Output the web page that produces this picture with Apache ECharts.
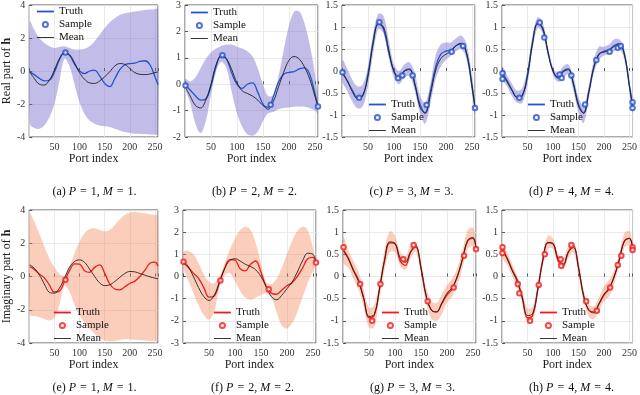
<!DOCTYPE html>
<html>
<head>
<meta charset="utf-8">
<script src="https://cdn.jsdelivr.net/npm/echarts@6/dist/echarts.min.js"></script>
</head>
<body style="margin:0; background:#fff">
<div id="main" style="width:640px; height:395px;"></div>
<script>
const ports = [1,10,20,30,40,50,60,70,80,90,100,110,120,130,140,150,160,170,180,190,200,210,220,230,240,250,256];

// ground truth, real and imaginary part
const truthRe = [-0.05,-0.22,-0.44,-0.6,-0.56,-0.07,0.68,1.1,0.95,0.42,0.0,-0.16,0.0,0.05,-0.3,-0.75,-0.95,-0.47,0.08,0.38,0.45,0.48,0.58,0.62,0.38,-0.35,-0.84];
const truthIm = [0.6,0.42,0.15,-0.08,-0.5,-0.93,-0.88,-0.3,0.35,0.76,0.74,0.35,0.25,0.55,0.7,0.2,-0.45,-0.75,-0.8,-0.62,-0.42,-0.28,0.0,0.38,0.8,0.86,0.62];

// (a) P=1
const meanRe1  = [-0.05,-0.45,-0.8,-0.85,-0.55,0.05,0.75,1.12,1.0,0.5,-0.1,-0.5,-0.72,-0.75,-0.6,-0.35,-0.05,0.3,0.45,0.4,0.15,-0.1,-0.2,-0.22,-0.18,-0.1,-0.05];
const upperRe1 = [3.0,2.5,2.0,1.7,1.5,1.4,1.45,1.5,1.4,1.3,1.3,1.35,1.5,1.8,2.2,2.6,2.95,3.2,3.4,3.5,3.55,3.6,3.65,3.7,3.72,3.75,3.78];
const lowerRe1 = [-3.2,-3.45,-3.5,-3.3,-2.8,-2.0,-0.6,0.75,0.3,-0.8,-1.9,-2.6,-3.0,-3.2,-3.3,-3.35,-3.4,-3.5,-3.6,-3.7,-3.75,-3.8,-3.8,-3.82,-3.85,-3.85,-3.85];
// (b) P=2
const meanRe2  = [-0.12,-0.45,-0.8,-0.9,-0.6,0.0,0.75,1.05,0.95,0.55,0.05,-0.25,-0.35,-0.45,-0.6,-0.8,-0.87,-0.65,-0.1,0.45,0.9,1.05,0.95,0.65,0.2,-0.45,-0.85];
const upperRe2 = [0.2,0.1,0.25,0.6,0.95,1.2,1.35,1.45,1.5,1.5,1.42,1.35,1.25,1.05,0.6,0.0,-0.45,-0.4,0.3,1.3,2.2,2.75,2.75,2.3,1.5,0.4,-0.6];
const lowerRe2 = [-0.2,-0.7,-1.5,-1.85,-1.4,-0.4,0.5,0.85,0.6,-0.3,-1.1,-1.6,-1.9,-1.95,-1.8,-1.4,-1.1,-1.05,-0.95,-0.9,-0.88,-0.85,-0.85,-0.85,-0.9,-1.0,-1.1];
// (c) P=3
const meanRe3  = [-0.05,-0.22,-0.47,-0.63,-0.55,-0.12,0.62,1.06,1.0,0.48,-0.02,-0.15,0.0,0.03,-0.28,-0.82,-0.96,-0.55,0.0,0.28,0.38,0.45,0.58,0.63,0.4,-0.3,-0.85];
const upperRe3 = [0.25,0.05,-0.2,-0.35,-0.3,0.1,0.85,1.3,1.25,0.7,0.15,0.0,0.15,0.2,-0.05,-0.55,-0.72,-0.3,0.35,0.6,0.65,0.65,0.75,0.8,0.6,-0.1,-0.7];
const lowerRe3 = [-0.25,-0.45,-0.7,-0.85,-0.8,-0.35,0.4,0.95,0.85,0.3,-0.15,-0.3,-0.15,-0.12,-0.45,-0.95,-1.2,-0.75,-0.2,0.1,0.25,0.35,0.45,0.5,0.25,-0.45,-1.05];
// (d) P=4
const meanRe4  = [-0.08,-0.25,-0.45,-0.6,-0.55,-0.12,0.62,1.07,0.98,0.45,0.0,-0.14,-0.02,0.03,-0.28,-0.8,-0.96,-0.5,0.08,0.38,0.43,0.47,0.56,0.6,0.38,-0.35,-0.78];
const upperRe4 = [0.1,-0.1,-0.3,-0.45,-0.38,0.05,0.8,1.22,1.1,0.55,0.08,-0.05,0.1,0.15,-0.12,-0.6,-0.78,-0.35,0.25,0.55,0.55,0.6,0.72,0.72,0.5,-0.25,-0.6];
const lowerRe4 = [-0.2,-0.35,-0.58,-0.72,-0.72,-0.3,0.5,0.98,0.85,0.35,-0.08,-0.25,-0.15,-0.08,-0.45,-0.95,-1.18,-0.65,-0.05,0.25,0.35,0.38,0.45,0.5,0.25,-0.5,-0.95];

// (e) P=1
const meanIm1  = [0.7,0.5,0.1,-0.45,-0.95,-1.0,-0.7,-0.1,0.55,0.9,1.0,0.85,0.45,0.0,-0.38,-0.55,-0.5,-0.3,-0.05,0.18,0.3,0.28,0.18,0.08,-0.02,-0.1,-0.14];
const upperIm1 = [3.8,3.3,2.6,1.8,1.1,0.55,0.15,0.05,0.6,1.4,2.1,2.6,2.85,2.9,2.8,2.72,2.8,3.1,3.45,3.7,3.85,3.88,3.85,3.8,3.75,3.7,3.68];
const lowerIm1 = [-2.3,-2.38,-2.45,-2.55,-2.65,-2.5,-1.7,-0.55,-0.9,-1.7,-2.3,-2.8,-3.15,-3.45,-3.7,-3.85,-3.9,-3.88,-3.82,-3.78,-3.78,-3.8,-3.82,-3.85,-3.88,-3.9,-3.9];
// (f) P=2
const meanIm2  = [0.7,0.45,0.0,-0.5,-0.9,-1.08,-0.85,-0.25,0.35,0.72,0.8,0.7,0.55,0.45,0.3,0.0,-0.45,-0.9,-1.05,-0.85,-0.55,-0.25,0.2,0.7,1.05,1.0,0.65];
const upperIm2 = [1.1,1.15,1.0,0.6,0.1,-0.25,-0.3,0.0,0.6,1.2,1.7,2.1,2.25,2.1,1.5,0.6,-0.25,-0.35,-0.1,0.4,1.0,1.6,2.05,2.25,2.1,1.3,0.6];
const lowerIm2 = [0.35,-0.15,-0.75,-1.3,-1.75,-1.95,-1.6,-0.5,0.05,0.15,-0.2,-0.65,-0.95,-1.05,-0.95,-0.85,-0.75,-0.95,-1.6,-2.2,-2.35,-2.1,-1.6,-0.95,-0.3,0.25,0.5];
// (g) P=3
const meanIm3  = [0.57,0.4,0.13,-0.12,-0.5,-0.9,-0.86,-0.3,0.38,0.78,0.75,0.42,0.32,0.55,0.66,0.2,-0.42,-0.76,-0.8,-0.6,-0.38,-0.25,0.0,0.4,0.82,0.88,0.62];
const upperIm3 = [0.88,0.6,0.35,0.1,-0.3,-0.7,-0.65,-0.1,0.6,1.02,0.92,0.55,0.45,0.7,0.75,0.35,-0.25,-0.55,-0.6,-0.4,-0.2,-0.05,0.2,0.6,1.05,1.1,0.8];
const lowerIm3 = [0.3,0.2,-0.05,-0.3,-0.7,-1.15,-1.15,-0.5,0.15,0.55,0.55,0.25,0.15,0.4,0.55,0.05,-0.6,-0.95,-1.0,-0.85,-0.6,-0.45,-0.2,0.2,0.62,0.68,0.42];
// (h) P=4
const meanIm4  = [0.58,0.4,0.13,-0.12,-0.48,-0.88,-0.84,-0.3,0.38,0.77,0.74,0.4,0.28,0.55,0.65,0.2,-0.42,-0.76,-0.82,-0.62,-0.4,-0.26,0.0,0.38,0.8,0.86,0.62];
const upperIm4 = [0.75,0.55,0.28,0.0,-0.35,-0.72,-0.68,-0.15,0.52,0.92,0.86,0.52,0.4,0.68,0.76,0.35,-0.3,-0.62,-0.68,-0.48,-0.22,-0.08,0.15,0.52,0.98,1.02,0.72];
const lowerIm4 = [0.42,0.27,0.0,-0.25,-0.62,-1.05,-1.02,-0.45,0.25,0.62,0.62,0.28,0.15,0.42,0.54,0.05,-0.55,-0.9,-0.96,-0.78,-0.56,-0.45,-0.15,0.24,0.65,0.7,0.52];

// observed samples [port, value]
const sampleRe1 = [[72,1.12]];
const sampleRe2 = [[1,-0.05],[72,1.1],[165,-0.78],[256,-0.84]];
const sampleRe3 = [[1,-0.03],[33,-0.61],[72,1.11],[108,-0.16],[116,-0.1],[136,-0.1],[163,-0.77],[211,0.44],[233,0.57],[256,-0.84]];
const sampleRe4 = [[1,-0.05],[1,-0.18],[34,-0.61],[74,1.1],[83,0.76],[113,-0.08],[117,-0.16],[136,-0.1],[163,-0.76],[185,0.25],[211,0.44],[227,0.53],[233,0.57],[256,-0.71],[256,-0.84]];
const sampleIm1 = [[72,-0.2]];
const sampleIm2 = [[1,0.67],[72,-0.18],[165,-0.57],[256,0.63]];
const sampleIm3 = [[1,0.66],[33,-0.17],[56,-1.0],[72,-0.17],[116,0.39],[136,0.71],[163,-0.56],[213,-0.25],[233,0.47],[256,0.62]];
const sampleIm4 = [[1,0.66],[1,0.53],[31,-0.17],[34,-0.38],[55,-1.0],[72,-0.19],[84,0.5],[115,0.39],[116,0.24],[136,0.71],[165,-0.56],[186,-0.77],[212,-0.25],[227,0.26],[234,0.47],[256,0.66],[256,0.6]];

// y axis ranges
const yMinRe = [-4,-2,-1.5,-1.5], yMaxRe = [4,3,1.5,1.5], yStepRe = [2,1,0.5,0.5];
const yMinIm = [-4,-3,-1.5,-1.5], yMaxIm = [4,3,1.5,1.5], yStepIm = [2,1,0.5,0.5];
const pValues = [1,2,3,4];
const letters = ['a','b','c','d','e','f','g','h'];

// layout (px)
const gridLeft = [[25,185,342,502],[25,183,343,502]];
const gridTop = [4,210];
const gridW = 133, gridH = 133;
const legendPos = [[[36,6],[190,7],[368,99],[527,99]], [[53,307],[213,307],[381,307],[539,307]]];
const captionY = [192,388];

const SERIF = 'Liberation Serif, Times New Roman, serif';
const BLUE = '#2653c9', RED = '#f01c1c', BLACK = '#1e1e1e';
const BAND = ['rgba(108,98,200,0.42)', 'rgba(245,125,80,0.38)'];
const SP = '\u2004';

const pairs = arr => ports.map((p, i) => [p, arr[i]]);

const rows = [
  { truth: truthRe, mean: [meanRe1,meanRe2,meanRe3,meanRe4], upper: [upperRe1,upperRe2,upperRe3,upperRe4],
    lower: [lowerRe1,lowerRe2,lowerRe3,lowerRe4], samples: [sampleRe1,sampleRe2,sampleRe3,sampleRe4],
    yMin: yMinRe, yMax: yMaxRe, yStep: yStepRe, color: BLUE, band: BAND[0], yName: 'Real part of {b|h}' },
  { truth: truthIm, mean: [meanIm1,meanIm2,meanIm3,meanIm4], upper: [upperIm1,upperIm2,upperIm3,upperIm4],
    lower: [lowerIm1,lowerIm2,lowerIm3,lowerIm4], samples: [sampleIm1,sampleIm2,sampleIm3,sampleIm4],
    yMin: yMinIm, yMax: yMaxIm, yStep: yStepIm, color: RED, band: BAND[1], yName: 'Imaginary part of {b|h}' }
];

// closed band between upper and lower edge, placed with the axis scales
function bandRenderer(up, lo, fill) {
  return function (params, api) {
    const pts = [];
    for (let i = 0; i < ports.length; i++) pts.push(api.coord([ports[i], up[i]]));
    for (let i = ports.length - 1; i >= 0; i--) pts.push(api.coord([ports[i], lo[i]]));
    return { type: 'polygon', shape: { points: pts, smooth: 0.35 }, style: { fill: fill } };
  };
}

const grids = [], xAxes = [], yAxes = [], series = [], legends = [], graphics = [];

rows.forEach((row, r) => {
  for (let k = 0; k < 4; k++) {
    const g = r * 4 + k;
    grids.push({ left: gridLeft[r][k], top: gridTop[r], width: gridW, height: gridH,
      show: true, borderColor: '#2b2b2b', borderWidth: 0.8 });
    xAxes.push({
      gridIndex: g, type: 'value', min: 0, max: 256, interval: 50,
      name: 'Port index', nameLocation: 'middle', nameGap: 15,
      nameTextStyle: { fontFamily: SERIF, fontSize: 12, color: '#222' },
      axisLine: { show: false },
      axisTick: { inside: true, length: 3, lineStyle: { color: '#333', width: 0.8 } },
      axisLabel: { fontFamily: SERIF, fontSize: 10, color: '#333', margin: 5,
        formatter: v => (v > 0 && v % 50 === 0) ? String(v) : '' },
      splitLine: { lineStyle: { color: '#e4e4e4', width: 0.8 } }
    });
    const ya = {
      gridIndex: g, type: 'value', min: row.yMin[k], max: row.yMax[k], interval: row.yStep[k],
      axisLine: { show: false },
      axisTick: { inside: true, length: 3, lineStyle: { color: '#333', width: 0.8 } },
      axisLabel: { fontFamily: SERIF, fontSize: 10, color: '#333', margin: 4 },
      splitLine: { lineStyle: { color: '#e4e4e4', width: 0.8 } }
    };
    if (k === 0) {
      Object.assign(ya, { name: row.yName, nameLocation: 'middle', nameGap: 12, nameRotate: 90,
        nameTextStyle: { fontFamily: SERIF, fontSize: 12, color: '#222',
          rich: { b: { fontFamily: SERIF, fontSize: 12, fontWeight: 'bold', color: '#222' } } } });
    }
    yAxes.push(ya);

    series.push({ type: 'custom', xAxisIndex: g, yAxisIndex: g, data: [[ports[0], row.lower[k][0]]],
      renderItem: bandRenderer(row.upper[k], row.lower[k], row.band), clip: true, silent: true, z: 1 });
    series.push({ name: 'Truth', type: 'line', xAxisIndex: g, yAxisIndex: g, data: pairs(row.truth),
      smooth: 0.4, symbol: 'none', lineStyle: { color: row.color, width: 1.3 }, itemStyle: { color: row.color }, z: 2 });
    series.push({ name: 'Mean', type: 'line', xAxisIndex: g, yAxisIndex: g, data: pairs(row.mean[k]),
      smooth: 0.4, symbol: 'none', lineStyle: { color: BLACK, width: 0.9 }, itemStyle: { color: BLACK }, z: 3 });
    series.push({ name: 'Sample', type: 'scatter', xAxisIndex: g, yAxisIndex: g, data: row.samples[k],
      symbol: 'emptyCircle', symbolSize: 4.5, itemStyle: { color: row.color, borderWidth: 1 }, z: 4 });

    legends.push({
      left: legendPos[r][k][0], top: legendPos[r][k][1], orient: 'vertical', padding: 0,
      itemWidth: 17, itemHeight: 5, itemGap: 2, selectedMode: false,
      textStyle: { fontFamily: SERIF, fontSize: 11, color: '#111', lineHeight: 11 },
      data: [
        { name: 'Truth', lineStyle: { color: row.color, width: 1.8 }, itemStyle: { opacity: 0 } },
        { name: 'Sample', itemStyle: { color: row.color, borderColor: row.color, borderWidth: 1 } },
        { name: 'Mean', lineStyle: { color: BLACK, width: 0.9 }, itemStyle: { opacity: 0 } }
      ]
    });

    graphics.push({
      type: 'text', x: gridLeft[r][k] + gridW / 2 + 3, y: captionY[r],
      style: {
        text: '(' + letters[g] + ') {i|P}' + SP + '=' + SP + pValues[k] + ', {i|M}' + SP + '=' + SP + pValues[k] + '.',
        textAlign: 'center', textVerticalAlign: 'middle',
        fontFamily: SERIF, fontSize: 12, fill: '#111',
        rich: { i: { fontFamily: SERIF, fontSize: 12, fontStyle: 'italic', fill: '#111' } }
      }
    });
  }
});

const myChart = echarts.init(document.getElementById('main'));
myChart.setOption({
  animation: false,
  backgroundColor: '#fff',
  grid: grids,
  xAxis: xAxes,
  yAxis: yAxes,
  legend: legends,
  graphic: graphics,
  series: series
});
</script>
</body>
</html>
